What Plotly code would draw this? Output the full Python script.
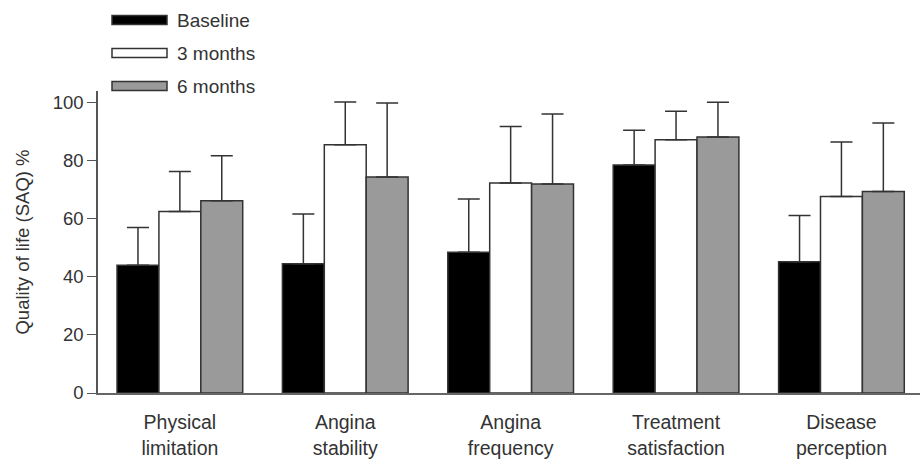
import plotly.graph_objects as go

categories = ["Physical<br>limitation", "Angina<br>stability", "Angina<br>frequency",
              "Treatment<br>satisfaction", "Disease<br>perception"]
series_names = ["Baseline", "3 months", "6 months"]
baseline = [44.0, 44.5, 48.5, 78.5, 45.2]
baseline_upper = [57.0, 61.6, 66.8, 90.5, 61.1]
m3 = [62.5, 85.5, 72.3, 87.2, 67.7]
m3_upper = [76.3, 100.2, 91.8, 97.0, 86.4]
m6 = [66.2, 74.4, 72.0, 88.2, 69.4]
m6_upper = [81.7, 99.9, 96.1, 100.1, 93.0]
y_ticks = [0, 20, 40, 60, 80, 100]

fills = ["#000000", "#ffffff", "#9a9a9a"]
edge = "#333333"
FONT = "Liberation Sans, Arial, sans-serif"

W, H = 922, 460
ML, MR, MT, MB = 98, 2, 91, 67
pw, ph = W - ML - MR, H - MT - MB

fig = go.Figure()
for name, vals, ups, col in zip(series_names, [baseline, m3, m6],
                                [baseline_upper, m3_upper, m6_upper], fills):
    fig.add_trace(go.Bar(
        x=list(range(len(categories))), y=vals, name=name,
        marker=dict(color=col, line=dict(color=edge, width=1.5)),
        error_y=dict(type="data", symmetric=False,
                     array=[u - v for u, v in zip(ups, vals)],
                     arrayminus=[0] * len(vals),
                     color=edge, thickness=1.5, width=11),
        showlegend=False,
    ))

# custom legend with wide swatches
def px_x(p):
    return (p - ML) / pw

def px_y(p):
    return (H - MB - p) / ph

legend_rows = [20, 53, 86]
for name, col, yc in zip(series_names, fills, legend_rows):
    fig.add_shape(type="rect", xref="paper", yref="paper",
                  x0=px_x(112), x1=px_x(167), y0=px_y(yc + 4.5), y1=px_y(yc - 4.5),
                  fillcolor=col, line=dict(color=edge, width=1.5))
    fig.add_annotation(xref="paper", yref="paper", x=px_x(175), y=px_y(yc),
                       text=name, showarrow=False, xanchor="left", yanchor="middle",
                       font=dict(family=FONT, size=19, color="#333"))

fig.update_layout(
    width=W, height=H,
    margin=dict(l=ML, r=MR, t=MT, b=MB, autoexpand=False),
    paper_bgcolor="white", plot_bgcolor="white",
    barmode="group", bargap=0.24, bargroupgap=0,
    font=dict(family=FONT, size=18, color="#333"),
    xaxis=dict(range=[-0.495, 4.475], tickvals=list(range(len(categories))),
               ticktext=categories, showline=True, linecolor="#666", linewidth=2,
               ticks="", showgrid=False, zeroline=False, ticklabelstandoff=11,
               tickfont=dict(size=19.5, color="#333")),
    yaxis=dict(range=[0, 104], tickvals=y_ticks, showline=True, linecolor="#555",
               linewidth=1.5, ticks="outside", ticklen=9, tickcolor="#555",
               showgrid=False, zeroline=False,
               tickfont=dict(size=18.5, color="#333"),
               title=dict(text="Quality of life (SAQ) %", standoff=18,
                          font=dict(size=18.5, color="#333"))),
)

fig.write_html("out.html", config={"displayModeBar": False},
               post_script="document.body.style.margin='0';")
